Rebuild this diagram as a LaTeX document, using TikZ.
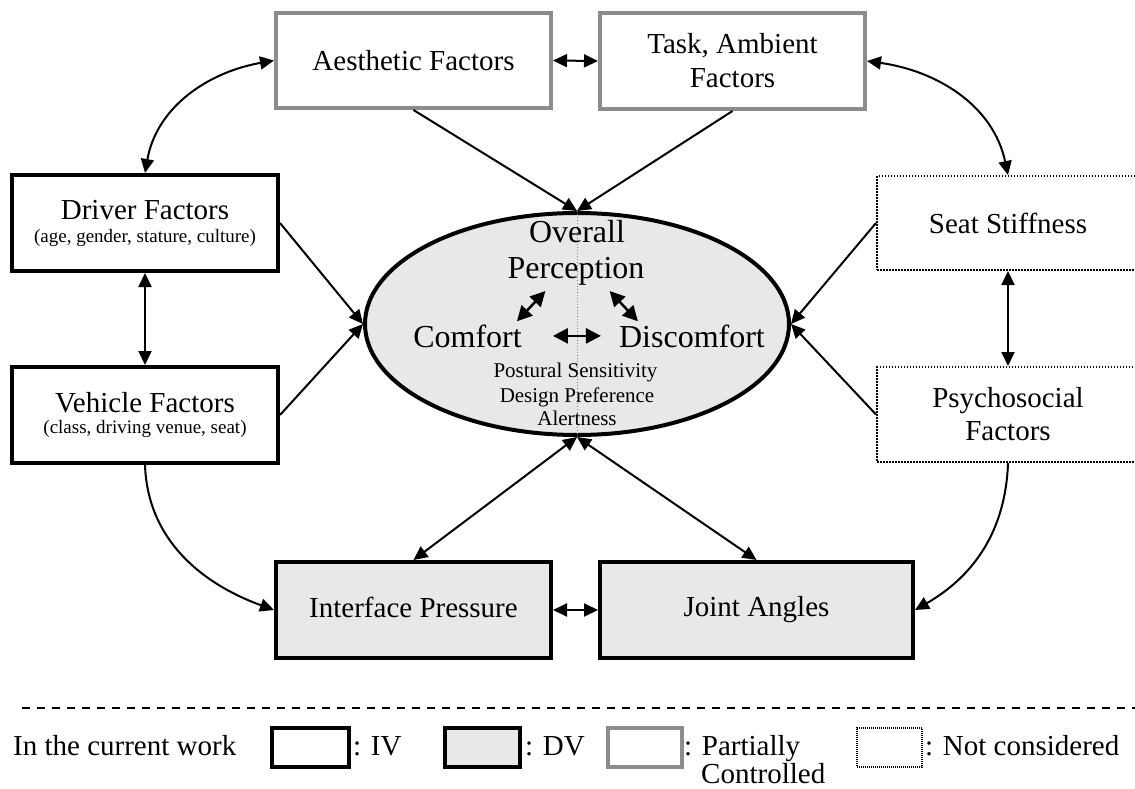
\documentclass[tikz,border=0pt]{standalone}
\usepackage{fontspec}
\setmainfont{Liberation Serif}
\usetikzlibrary{arrows.meta,shapes.geometric}
\newcommand\fsz[2]{\fontsize{#1}{#2}\selectfont}
\definecolor{dvfill}{HTML}{E8E8E8}
\definecolor{pcgray}{HTML}{8C8C8C}

\begin{document}
\begin{tikzpicture}[x=1pt,y=1pt,
  >={Triangle[length=14pt,width=13pt]},
  box/.style={rectangle, inner sep=0pt, align=center, font=\fsz{29}{34}},
  ivbox/.style={box, draw=black, line width=4pt},
  dvbox/.style={ivbox, fill=dvfill},
  pcbox/.style={box, draw=pcgray, line width=4pt},
  ncbox/.style={box, draw=black, line width=2pt, dash pattern=on 1.5pt off 1.5pt},
  link/.style={line width=2pt, ->},
  both/.style={line width=2pt, <->},
  inarrow/.style={line width=2.5pt, <->, >={Triangle[length=15pt,width=15pt]}},
  big/.style={inner sep=0pt, font=\fsz{32}{36}, anchor=base},
  small/.style={inner sep=0pt, font=\fsz{21}{24}, anchor=base},
  lbl/.style={inner sep=0pt, font=\fsz{29}{34}, anchor=base west},
]
\useasboundingbox (0,0) rectangle (1135,-789);

% factor boxes
\node[pcbox, minimum width=275pt, minimum height=95pt] (aes) at (413.5,-60.5) {Aesthetic Factors};
\node[pcbox, minimum width=265pt, minimum height=96pt] (task) at (732.5,-61) {Task, Ambient\\Factors};
\node[ivbox, minimum width=266pt, minimum height=96pt, font=\fsz{29}{23}] (drv) at (145,-223)
  {Driver Factors\\{\fsz{19}{23}(age, gender, stature, culture)}};
\node[ivbox, minimum width=266pt, minimum height=96pt, font=\fsz{29}{21}] (veh) at (145,-415)
  {Vehicle Factors\\{\fsz{19}{21}(class, driving venue, seat)}};
\node[ncbox, minimum width=262pt, minimum height=94pt] (seat) at (1008,-223) {Seat Stiffness};
\node[ncbox, minimum width=262pt, minimum height=95pt, font=\fsz{29}{33}] (psy) at (1008,-414.5) {Psychosocial\\Factors};
\node[dvbox, minimum width=275pt, minimum height=96pt] (ifp) at (413.5,-610) {Interface Pressure\vphantom{g}};
\node[dvbox, minimum width=313pt, minimum height=96pt] (jnt) at (756.5,-610) {Joint Angles};

% central perception ellipse
\node[ellipse, draw, line width=4pt, fill=dvfill, minimum width=424pt, minimum height=222pt, inner sep=0pt] (ell) at (577,-324) {};
\draw[gray, line width=1pt, dash pattern=on 1pt off 2pt] (ell.north) -- (ell.south);

\node[big] (ovl) at (577,-242) {Overall};
\node[big] (per) at (576,-278) {Perception};
\node[big] (cmf) at (467.5,-347) {Comfort};
\node[big] (dcf) at (692,-347) {Discomfort};
\node[small] (pst) at (575.5,-377) {Postural Sensitivity};
\node[small] (dsg) at (577,-402) {Design Preference};
\node[small] (alr) at (577,-425) {Alertness};

\draw[inarrow] ([xshift=-5pt,yshift=3pt]cmf.north east) -- ([xshift=38pt,yshift=-6pt]per.south west);
\draw[inarrow] ([xshift=19pt,yshift=3pt]dcf.north west) -- ([xshift=-35pt,yshift=-6pt]per.south east);
\draw[inarrow] ([xshift=31pt]cmf.east) -- ([xshift=-18pt]dcf.west);

% influences on perception
\draw[link] (aes.south) -- (ell.north);
\draw[link] (task.south) -- (ell.north);
\draw[link] (drv.east) -- (ell.west);
\draw[link] (veh.east) -- (ell.west);
\draw[link] (seat.west) -- (ell.east);
\draw[link] (psy.west) -- (ell.east);
\draw[both] (ell.south) -- (ifp.north);
\draw[both] (ell.south) -- (jnt.north);

% links between factors
\draw[both] (aes.east) -- (task.west);
\draw[both] (ifp.east) -- (jnt.west);
\draw[both] (drv.south) -- (veh.north);
\draw[both] (seat.south) -- (psy.north);
\draw[both] (drv.north) to[out=80,in=190] (aes.west);
\draw[both] (task.east) to[out=-8,in=102] (seat.north);
\draw[link] (veh.south) to[out=-88,in=160] (ifp.west);
\draw[link] (psy.south) to[out=-92,in=30] (jnt.east);

% legend
\draw[line width=2pt, dash pattern=on 8pt off 7pt] (22,-708) -- (1135,-708);
\node[lbl] (lcw) at (13,-755) {In the current work};
\node[ivbox, minimum width=77pt, minimum height=39pt] (kiv) at (310.5,-747.5) {};
\node[lbl] (liv) at (353,-755) {: IV};
\node[dvbox, minimum width=75pt, minimum height=39pt] (kdv) at (482.5,-747.5) {};
\node[lbl] (ldv) at (525,-755) {: DV};
\node[pcbox, minimum width=74pt, minimum height=39pt] (kpc) at (645,-747.5) {};
\node[lbl] (lpc) at (684,-755) {: Partially};
\node[lbl] (lpc2) at (701,-783) {Controlled};
\node[box, draw=black, line width=1.5pt, dash pattern=on 1pt off 1pt, minimum width=65pt, minimum height=39pt] (knc) at (889.5,-747.5) {};
\node[lbl] (lnc) at (925,-755) {: Not considered};
\end{tikzpicture}
\end{document}
